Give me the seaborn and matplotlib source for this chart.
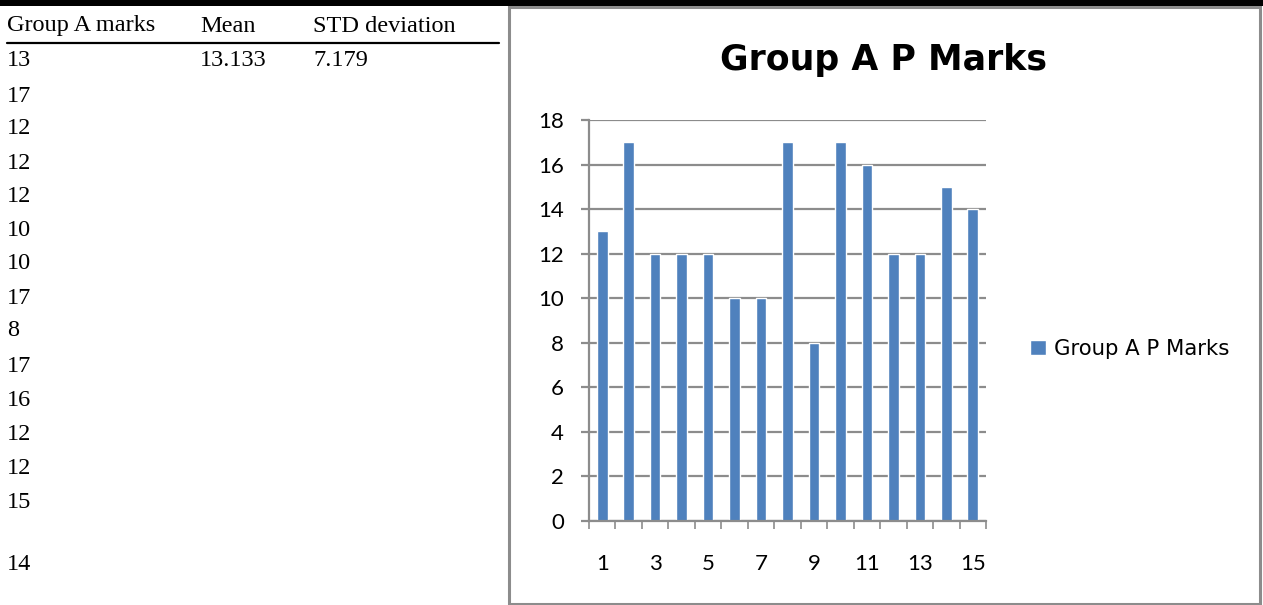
import matplotlib
matplotlib.use('Agg')
import matplotlib.pyplot as plt
import seaborn as sns
import pandas as pd
from matplotlib.patches import Rectangle
from matplotlib.lines import Line2D

# ── data ───────────────────────────────────────────────────
marks = [13, 17, 12, 12, 12, 10, 10, 17, 8, 17, 16, 12, 12, 15, 14]
students = [str(i) for i in range(1, 16)]
mean_txt = "13.133"
std_txt = "7.179"
headers = ["Group A marks", "Mean", "STD deviation"]
series_name = "Group A P Marks"
y_ticks = list(range(0, 19, 2))

W, H = 1263, 605
sns.set_style("white")
plt.rcParams['font.family'] = ['Lato', 'DejaVu Sans']
plt.rcParams['text.color'] = 'black'
plt.rcParams['xtick.labelcolor'] = 'black'
plt.rcParams['ytick.labelcolor'] = 'black'

fig = plt.figure(figsize=(W / 100, H / 100), dpi=100)

def fx(px):
    return px / W

def fy(py):
    return 1 - py / H

# ── frame lines ────────────────────────────────────────────
fig.add_artist(Rectangle((fx(0), fy(6)), 1, 6 / H, transform=fig.transFigure,
                         color='black', lw=0, zorder=5))
fig.add_artist(Rectangle((fx(509), fy(604)), fx(1260 - 509), (604 - 7) / H,
                         transform=fig.transFigure, fill=False,
                         edgecolor='#8c8c8c', lw=2.2))
fig.add_artist(Line2D([fx(7), fx(499)], [fy(43), fy(43)], transform=fig.transFigure,
                      color='black', lw=1.6))

# ── table on the left ──────────────────────────────────────
serif = ['Liberation Serif', 'DejaVu Serif']
tsize = 17.5
for txt, x in zip(headers, [7, 200, 313]):
    fig.text(fx(x), fy(26), txt, family=serif, fontsize=tsize, va='center', ha='left')
row_y = [61, 96, 129, 163, 197, 230, 264, 298, 331, 366, 400, 434, 468, 502, 564]
for v, y in zip(marks, row_y):
    fig.text(fx(7), fy(y), str(v), family=serif, fontsize=tsize, va='center', ha='left')
fig.text(fx(200), fy(61), mean_txt, family=serif, fontsize=tsize, va='center', ha='left')
fig.text(fx(313), fy(61), std_txt, family=serif, fontsize=tsize, va='center', ha='left')

# ── bar chart ──────────────────────────────────────────────
df = pd.DataFrame({'student': students, 'marks': marks})
ax = fig.add_axes([fx(589), fy(521), fx(986 - 589), (521 - 120) / H])
sns.barplot(data=df, x='student', y='marks', order=students, color='#4F81BD',
            saturation=1, width=0.4, ax=ax, label=series_name)

ax.set_ylim(0, 18)
ax.set_xlim(-0.5, 14.5)
ax.set_yticks(y_ticks)
ax.set_xticks(range(0, 15, 2))
ax.set_xticklabels(students[::2])
ax.set_xticks([i - 0.5 for i in range(16)], minor=True)
ax.set_xlabel('')
ax.set_ylabel('')
ax.grid(axis='y', color='#8c8c8c', lw=1.6)
ax.set_axisbelow(True)
for s in ['top', 'right']:
    ax.spines[s].set_visible(False)
for s in ['left', 'bottom']:
    ax.spines[s].set_color('#8c8c8c')
    ax.spines[s].set_linewidth(1.6)
ax.tick_params(axis='y', which='major', left=True, length=6, width=1.6, color='#8c8c8c',
               pad=12, labelsize=16, labelcolor='black')
ax.tick_params(axis='x', which='major', bottom=False, length=0, pad=24, labelsize=16,
               labelcolor='black')
ax.tick_params(axis='x', which='minor', bottom=True, length=6, width=1.2, color='#8c8c8c')

fig.text(fx(883), fy(60), series_name, family=['DejaVu Sans'], fontsize=25,
         fontweight='bold', ha='center', va='center', color='black')

leg = ax.legend(loc='center left', bbox_to_anchor=(fx(1011), fy(349)),
                bbox_transform=fig.transFigure, frameon=False,
                prop={'family': 'DejaVu Sans', 'size': 15.3},
                handlelength=0.75, handleheight=0.75, handletextpad=0.35)
for t in leg.get_texts():
    t.set_color('black')

fig.savefig('out.png', dpi=100)
plt.close(fig)
